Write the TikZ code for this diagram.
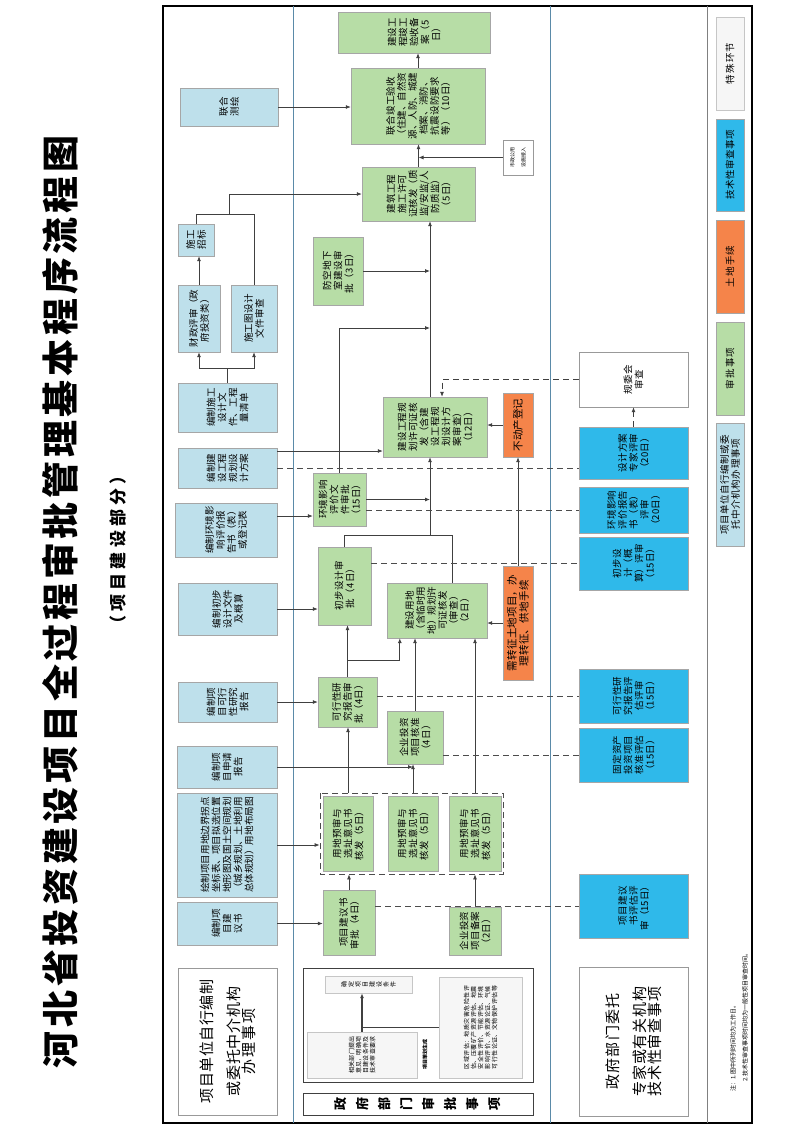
\documentclass[tikz,border=0pt]{standalone}
\usepackage{fontspec}
\setmainfont{Noto Sans CJK SC}
\XeTeXlinebreaklocale "zh"
\XeTeXlinebreakskip=0pt plus 1pt
\usetikzlibrary{arrows.meta}
\definecolor{appgreen}{HTML}{B7DDA6}
\definecolor{selfblue}{HTML}{BEE0EB}
\definecolor{techblue}{HTML}{2FB9EA}
\definecolor{landorange}{HTML}{F5844A}
\definecolor{lanegray}{HTML}{5A8AA8}
% rotated box: style, name, x1, y1, x2, y2, text (image pixels)
\newcommand\rbox[7]{\pgfmathsetmacro\tw{#6-#4-6}%
  \node[#1, minimum width={#6-#4}, minimum height={#5-#3}, text width=\tw pt] (#2) at ({(#3+#5)/2},{(#4+#6)/2}) {#7};}
\begin{document}
\begin{tikzpicture}[x=1pt, y=-1pt,
    base/.style={rotate=90, draw=gray!70, inner sep=1pt, align=center, font=\fontsize{9.5}{11}\selectfont},
    selfbox/.style={base, fill=selfblue},
    appbox/.style={base, fill=appgreen},
    techbox/.style={base, fill=techblue},
    landbox/.style={base, fill=landorange, font=\fontsize{10.5}{12}\selectfont},
    whitebox/.style={base, fill=white, draw=gray!80},
    specbox/.style={base, fill=gray!7, draw=gray!45, font=\fontsize{6}{7}\selectfont},
    arr/.style={-{Latex[length=5pt,width=4pt]}, draw=black!75, thick},
    dsh/.style={dashed, dash pattern=on 6pt off 4pt, draw=black!70, thick}]
\useasboundingbox (0,0) rectangle (800,1132);
\fill[white] (0,0) rectangle (800,1132);

% title
\node[rotate=90, font=\fontsize{37}{40}\selectfont\bfseries\addfontfeatures{LetterSpace=10}] (title) at (60,602) {河北省投资建设项目全过程审批管理基本程序流程图};
\node[rotate=90, font=\fontsize{17}{20}\selectfont\bfseries\addfontfeatures{LetterSpace=25}] (subtitle) at (118,550) {（项目建设部分）};

% frame and lanes
\draw[line width=1.6pt] (163,6) rectangle (752,1123);
\draw[lanegray, thick] (293,6) -- (293,1123);
\draw[lanegray, thick] (550,6) -- (550,1123);
\draw[gray, thick] (707,6) -- (707,1123);

% project unit column
\rbox{selfbox}{hc}{180}{88}{278}{126}{联合\\测绘}
\rbox{selfbox}{zb}{178}{224}{214}{256}{施工\\招标}
\rbox{selfbox}{cz}{178}{285}{220}{352}{财政评审（政府投资类）}
\rbox{selfbox}{st}{231}{285}{277}{352}{施工图设计文件审查}
\rbox{selfbox}{bsg}{178}{383}{277}{432}{编制施工设计文件、工程量清单}
\rbox{selfbox}{bgh}{178}{448}{277}{488}{编制建设工程规划设计方案}
\rbox{selfbox}{bhp}{175}{503}{277}{557}{编制环境影响评价报告书（表）或登记表}
\rbox{selfbox}{bcb}{178}{583}{277}{635}{编制初步设计文件及概算}
\rbox{selfbox}{bky}{178}{682}{277}{722}{编制项目可行性研究报告}
\rbox{selfbox}{bsq}{177}{746}{277}{788}{编制项目申请报告}
\rbox{selfbox}{bhz}{177}{793}{277}{897}{绘制项目用地边界拐点坐标表、项目拟选位置地形图及国土空间规划（城乡规划、土地利用总体规划）用地布局图}
\rbox{selfbox}{bjy}{177}{902}{277}{945}{编制项目建议书}
\rbox{whitebox}{wl}{178}{968}{277}{1115}{\fontsize{15}{27}\selectfont 项目单位自行编制\\或委托中介机构\\办理事项}

% approval column
\rbox{appbox}{ba}{338}{12}{490}{53}{建设工程竣工验收备案（5日）}
\rbox{appbox}{ys}{351}{68}{485}{144}{联合竣工验收（住建、自然资源、人防、城建档案、消防、抗震设防要求等）（10日）}
\rbox{appbox}{sg}{362}{167}{475}{221}{建筑工程施工许可证核发（质监/安监/人防质监）（5日）}
\rbox{appbox}{rf}{313}{237}{363}{305}{防空地下室建设审批（3日）}
\rbox{appbox}{gx}{383}{397}{487}{457}{建设工程规划许可证核发（含建设工程规划设计方案审查）（12日）}
\rbox{appbox}{hp}{313}{473}{366}{526}{环境影响评价文件审批（15日）}
\rbox{appbox}{cs}{318}{547}{371}{625}{初步设计审批（4日）}
\rbox{appbox}{yd}{387}{583}{487}{638}{建设用地（含临时用地）规划许可证核发（审查）（2日）}
\rbox{appbox}{ky}{318}{677}{377}{727}{可行性研究报告审批（4日）}
\rbox{appbox}{hz}{387}{711}{443}{764}{企业投资项目核准（4日）}
\rbox{base, draw=black!70, dsh, fill=none}{grp}{320}{793}{503}{874}{}
\rbox{appbox}{ys1}{323}{796}{373}{871}{用地预审与选址意见书核发（5日）}
\rbox{appbox}{ys2}{388}{796}{438}{871}{用地预审与选址意见书核发（5日）}
\rbox{appbox}{ys3}{449}{796}{501}{871}{用地预审与选址意见书核发（5日）}
\rbox{appbox}{jy}{323}{890}{375}{955}{项目建议书审批（4日）}
\rbox{appbox}{bax}{449}{907}{501}{955}{企业投资项目备案（2日）}
\rbox{landbox}{bdc}{503}{393}{533}{457}{不动产登记}
\rbox{landbox}{zz}{503}{566}{533}{680}{需转征土地项目，办理转征、供地手续}
\rbox{whitebox}{sz}{503}{140}{533}{175}{\fontsize{5}{6}\selectfont 市政公用设施接入}

% special steps
\draw[black!75, thick] (303,968) rectangle (533,1082);
\rbox{specbox}{spt}{325}{976}{412}{993}{确定项目建设条件}
\rbox{specbox}{sp1}{307}{1032}{417}{1078}{相关部门提出意见，明确项目建设条件及技术审查要求}
\node[rotate=90, font=\fontsize{5}{6}\selectfont\bfseries] (spl) at (425,1054) {项目策划生成};
\rbox{specbox}{spr}{439}{977}{522}{1078}{区域评估：地质灾害危险性评估、压覆矿产资源评估、地震安全性评价、节能评估、环境影响评价、水资源论证、气候可行性论证、文物保护评估等}
\rbox{base, draw=black!75, thick, font=\fontsize{13}{22}\selectfont\bfseries}{gov}{303}{1093}{533}{1115}{政\\府\\部\\门\\审\\批\\事\\项}

% technical review column
\rbox{whitebox}{gw}{579}{352}{688}{407}{规委会\\审查}
\rbox{techbox}{fa}{579}{427}{688}{479}{设计方案专家评审（20日）}
\rbox{techbox}{hb}{579}{487}{688}{533}{环境影响评价报告书（表）评审（20日）}
\rbox{techbox}{cb}{579}{537}{688}{590}{初步设计（概算）评审（15日）}
\rbox{techbox}{kp}{579}{669}{688}{723}{可行性研究报告评估评审（15日）}
\rbox{techbox}{gd}{579}{728}{688}{782}{固定资产投资项目核准评估（15日）}
\rbox{techbox}{jp}{579}{874}{688}{938}{项目建议书评估评审（15日）}
\rbox{whitebox}{wr}{579}{967}{688}{1116}{\fontsize{15}{27}\selectfont 政府部门委托\\专家或有关机构\\技术性审查事项}
\node[rotate=90, anchor=west, font=\fontsize{6}{7}\selectfont] (note1) at (733,1095) {注：1.图中所列时间均为工作日。};
\node[rotate=90, anchor=west, font=\fontsize{6}{7}\selectfont] (note2) at (745,1085) {2.技术性审查事项时间均为一般性项目审查时间。};

% legend
\rbox{specbox, font=\fontsize{9.5}{11}\selectfont}{lg1}{716}{17}{744}{110}{特殊环节}
\rbox{techbox}{lg2}{716}{119}{744}{211}{技术性审查事项}
\rbox{landbox, font=\fontsize{9.5}{11}\selectfont}{lg3}{716}{220}{744}{313}{土地手续}
\rbox{appbox}{lg4}{716}{322}{744}{415}{审批事项}
\rbox{selfbox}{lg5}{716}{423}{744}{546}{项目单位自行编制或委托中介机构办理事项}

% connectors
\coordinate (j1) at (430,535);
\coordinate (j2) at (227,368);
\coordinate (j3) at (229,214);
\coordinate (kyb) at (348,660);
\draw[arr] (bjy.south) -- (bjy.south -| jy.north);
\draw[arr] (bhz.south) -- (bhz.south -| grp.north);
\draw[arr] (bsq.south) -- (ys2.east |- bsq.south);
\draw[arr] (ys2.east |- grp.east) -- (ys2.east |- hz.west);
\draw[arr] (jy.east) -- (jy.east |- grp.west);
\draw[arr] (bax.east) -- (bax.east |- grp.west);
\draw[arr] (ys1.east |- grp.east) -- (ys1.east |- ky.west);
\draw[arr] (bky.south) -- (bky.south -| ky.north);
\draw[arr] (ky.east) -- (ky.east |- cs.west);
\draw[arr] (kyb) -| ([xshift=13pt]yd.north west);
\draw[arr] (hz.east) -- (hz.east |- yd.west);
\draw[arr] (ys3.east |- grp.east) -- (ys3.east |- yd.west);
\draw[arr] (bcb.south) -- (bcb.south -| cs.north);
\draw[arr] (zz.north) -- (zz.north -| yd.south);
\draw[draw=black!75, thick] (cs.east) |- ([xshift=15pt]yd.east |- j1) -- ([xshift=15pt]yd.east);
\draw[arr] (j1) -- (j1 |- gx.west);
\draw[arr] (hp.south) -- (hp.south -| j1);
\draw[arr] (bhp.south |- 0,516) -- (hp.north |- 0,516);
\draw[arr] (bgh.south |- 0,451) -- (gx.north |- 0,451);
\draw[arr] (hp.east) |- (j1 |- 0,328);
\draw[arr] (rf.south) -- (rf.south -| j1);
\draw[arr] (j1 |- gx.east) -- (j1 |- sg.west);
\draw[arr] (bsg.east) |- (cz.west |- j2) -- (cz.west);
\draw[arr] (bsg.east |- j2) -| (st.west);
\draw[arr] (cz.east) -- (cz.east |- zb.west);
\draw[draw=black!75, thick] (zb.east) |- (st.east |- j3) -- (st.east);
\draw[arr] (j3) |- (sg.north);
\draw[arr] (sg.east) -- (sg.east |- ys.west);
\draw[arr] (sz.north) -- (sz.north -| sg.east);
\draw[arr] (hc.south) -- (hc.south -| ys.north);
\draw[arr] (ys.east) -- (ys.east |- ba.west);
\draw[arr] (bdc.north) -- (bdc.north -| gx.south);
\draw[arr] (zz.east) -- (bdc.west);
\draw[arr, line width=1.2pt] (sp1.east) -- (sp1.east |- spt.west);
\draw[draw=black!75, thick] (sp1.east |- spr.north) -- (spr.north);

% technical review links
\draw[dsh, arr] (gw.north) -| ([xshift=7pt]gx.east);
\draw[dsh] (bgh.south) -- (bgh.south -| fa.north);
\draw[dsh] (hb.north -| hp.south) -- (hb.north);
\draw[dsh] (cb.north -| cs.south) -- (cb.north);
\draw[dsh] (kp.north -| ky.south) -- (kp.north);
\draw[dsh] (gd.north -| hz.south) -- (gd.north);
\draw[dsh] (jp.north -| jy.south) -- (jp.north);
\draw[dsh, arr] (fa.east) -- (gw.west);
\end{tikzpicture}
\end{document}
